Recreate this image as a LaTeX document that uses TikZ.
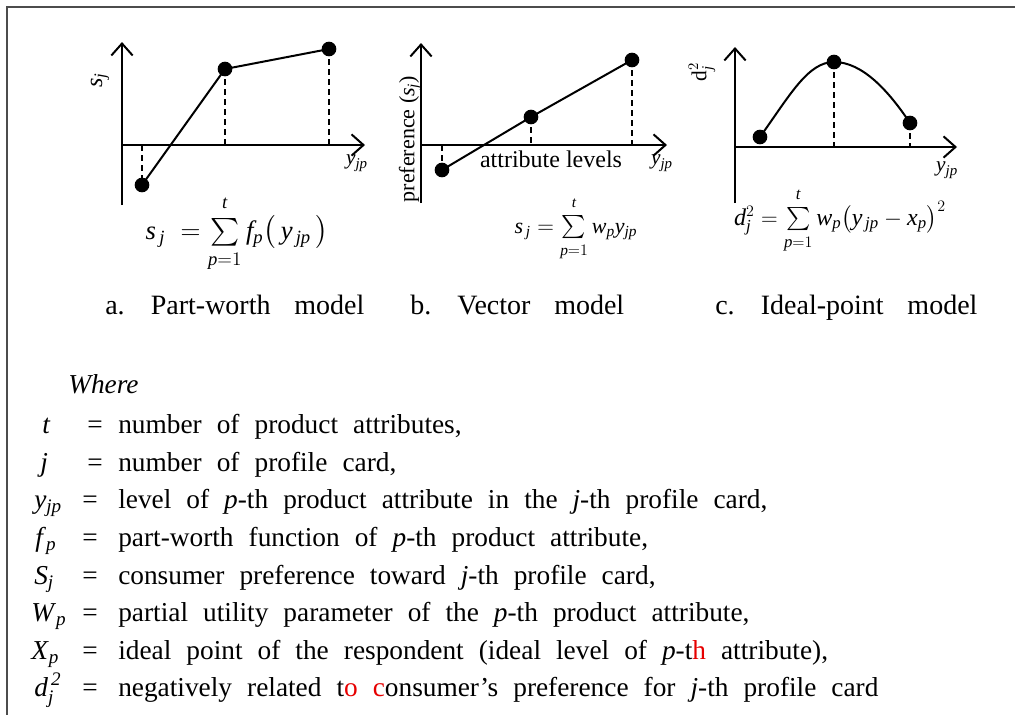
\documentclass[tikz,border=0pt]{standalone}
\usepackage{exscale}
\usepackage{fontspec}
\setmainfont{Liberation Serif}
\usetikzlibrary{arrows.meta}
\definecolor{framec}{gray}{0.3}
\definecolor{redc}{RGB}{230,0,0}
\newcommand{\mi}[1]{\mathit{#1}}
\newcommand{\bigsum}{\textstyle\sum\limits_{\raisebox{-2pt}{$\scriptstyle \mi{p}=1$}}^{\raisebox{3pt}{$\scriptstyle \mi{t}$}}}
\begin{document}
\begin{tikzpicture}[x=0.75pt,y=-0.75pt,
 axis/.style={line width=1.5pt, -{Straight Barb[length=9pt,width=16pt,line width=1.5pt]}},
 curve/.style={line width=1.5pt},
 dropline/.style={line width=1.5pt, dash pattern=on 4.5pt off 3pt},
 dot/.style={circle, fill=black, inner sep=0pt, minimum size=11pt},
 lbl/.style={inner sep=0pt, font={\fontsize{16}{19}\selectfont}},
 eq/.style={inner sep=0pt, anchor=base, font={\fontsize{19}{23}\selectfont}},
 captxt/.style={inner sep=0pt, anchor=base west, font={\fontsize{21}{25}\selectfont\spaceskip=0.85em\relax}},
 leg/.style={inner sep=0pt, anchor=base west, font={\fontsize{20.5}{25}\selectfont\spaceskip=0.55em\relax}},
 eqs/.style={inner sep=0pt, anchor=base, font={\fontsize{20.5}{25}\selectfont}},
]
\useasboundingbox (0,0) rectangle (1015,715);
% frame
\draw[framec, line width=1.5pt] (1015,7) -- (7,7) -- (7,715);

% ---------- panel a ----------
\coordinate (aO) at (122,145);
\coordinate (aYb) at (122,205);
\coordinate (aYt) at (122,42);
\coordinate (aXe) at (365,145);
\draw[axis] (aYb) -- (aYt);
\draw[axis] (aO) -- (aXe);
\node[dot] (a1) at (142,185) {};
\node[dot] (a2) at (225,69) {};
\node[dot] (a3) at (329,49) {};
\draw[curve] (a1.center) -- (a2.center) -- (a3.center);
\draw[dropline] (a1.center |- aO) -- (a1.center);
\draw[dropline] (a2.center) -- (a2.center |- aO);
\draw[dropline] (a3.center) -- (a3.center |- aO);
\node[lbl, rotate=90, font={\fontsize{18}{20}\selectfont}] (asl) at (100,80) {$\mi{s}_{\mi{j}}$};
\node[lbl] (ayl) at (357,163) {$\mi{y}_{\mi{jp}}$};
\node[eq, font={\fontsize{20}{24}\selectfont}] (aeq) at (237,239) {$\mi{s}_{\,\mi{j}}\;=\bigsum\mi{f}_{\mi{p}}\bigl(\,\mi{y}_{\,\mi{jp}}\,\bigr)$};

% ---------- panel b ----------
\coordinate (bO) at (421,145);
\coordinate (bYb) at (421,203);
\coordinate (bYt) at (421,43);
\coordinate (bXe) at (667,145);
\draw[axis] (bYb) -- (bYt);
\draw[axis] (bO) -- (bXe);
\node[dot] (b1) at (442,170) {};
\node[dot] (b2) at (531,117) {};
\node[dot] (b3) at (632,60) {};
\draw[curve] (b1.center) -- (b2.center) -- (b3.center);
\draw[dropline] (b1.center |- bO) -- (b1.center);
\draw[dropline] (b2.center) -- (b2.center |- bO);
\draw[dropline] (b3.center) -- (b3.center |- bO);
\node[lbl, rotate=90, font={\fontsize{16.5}{19}\selectfont}] (bsl) at (410,139) {preference ($\mi{s}_{\mi{j}}$)};
\node[inner sep=0pt, anchor=base, font={\fontsize{18}{22}\selectfont}] (bal) at (551,167) {attribute levels};
\node[lbl] (byl) at (662,163) {$\mi{y}_{\mi{jp}}$};
\node[eq, font={\fontsize{16.5}{19}\selectfont}] (beq) at (576,233) {$\mi{s}_{\,\mi{j}}=\bigsum\mi{w}_{\mi{p}}\mi{y}_{\mi{jp}}$};

% ---------- panel c ----------
\coordinate (cO) at (735,147);
\coordinate (cYb) at (735,203);
\coordinate (cYt) at (735,47);
\coordinate (cXe) at (957,147);
\draw[axis] (cYb) -- (cYt);
\draw[axis] (cO) -- (cXe);
\node[dot] (c1) at (760,137) {};
\node[dot] (c2) at (834,62) {};
\node[dot] (c3) at (910,123) {};
\draw[curve] (c1.center) .. controls (790,95) and (808,62) .. (c2.center) .. controls (862,62) and (888,90) .. (c3.center);
\draw[dropline] (c2.center) -- (c2.center |- cO);
\draw[dropline] (c3.center) -- (c3.center |- cO);
\node[lbl, rotate=90] (cdl) at (702,72) {d$_{\mi{j}}^{2}$};
\node[lbl] (cyl) at (947,170) {$\mi{y}_{\mi{jp}}$};
\node[eq, font={\fontsize{18}{22}\selectfont}] (ceq) at (840,225) {$\mi{d}_{\mi{j}}^{2}=\bigsum\mi{w}_{\mi{p}}\bigl(\mi{y}_{\,\mi{jp}}-\mi{x}_{\mi{p}}\bigr)^{2}$};

% ---------- captions ----------
\node[captxt] (capa) at (105,314) {a. Part-worth model};
\node[captxt] (capb) at (410,314) {b. Vector model};
\node[captxt] (capc) at (715,314) {c. Ideal-point model};

% ---------- legend ----------
\node[leg] (where) at (68,393) {\textit{Where}};
\node[leg] (s1) at (42,433) {\textit{t}};
\node[leg] (s2) at (40,471) {\textit{j}};
\node[leg] (s3) at (34,508) {\textit{y}$_{\mi{jp}}$};
\node[leg] (s4) at (35,546) {\textit{f}$_{\mi{p}}$};
\node[leg] (s5) at (34,584) {\textit{S}$_{\mi{j}}$};
\node[leg] (s6) at (31,621) {\textit{W}$_{\mi{p}}$};
\node[leg] (s7) at (31,659) {\textit{X}$_{\mi{p}}$};
\node[leg] (s8) at (34,696) {\textit{d}$_{\mi{j}}^{\,\mi{2}}$};
\foreach \yy/\xx [count=\i] in {433/95,471/95,508/90,546/90,584/90,621/90,659/90,696/90}
  \node[eqs] (e\i) at (\xx,\yy) {=};
\node[leg] (t1) at (118,433) {number of product attributes,};
\node[leg] (t2) at (118,471) {number of profile card,};
\node[leg] (t3) at (118,508) {level of \textit{p}-th product attribute in the \textit{j}-th profile card,};
\node[leg] (t4) at (118,546) {part-worth function of \textit{p}-th product attribute,};
\node[leg] (t5) at (118,584) {consumer preference toward \textit{j}-th profile card,};
\node[leg] (t6) at (118,621) {partial utility parameter of the \textit{p}-th product attribute,};
\node[leg] (t7) at (118,659) {ideal point of the respondent (ideal level of \textit{p}-t\textcolor{redc}{h} attribute),};
\node[leg] (t8) at (118,696) {negatively related t\textcolor{redc}{o} \textcolor{redc}{c}onsumer’s preference for \textit{j}-th profile card};
\end{tikzpicture}
\end{document}
